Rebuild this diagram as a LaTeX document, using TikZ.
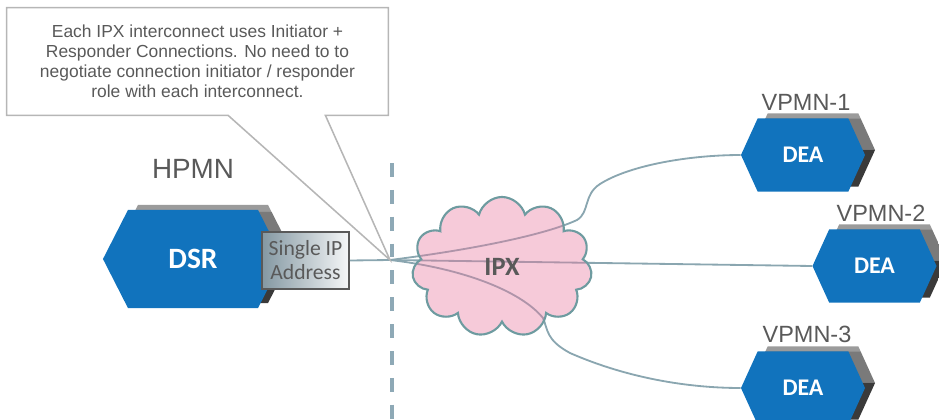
\documentclass[tikz,border=0pt]{standalone}
\usepackage{fontspec}
\setmainfont{Liberation Sans}
\newfontfamily\calfont{Carlito}
\usepackage{xcolor}
\usepackage{tikz}
\usetikzlibrary{positioning,shapes.symbols,calc}

\definecolor{hexblue}{RGB}{17,115,189}
\definecolor{bevellight}{RGB}{155,155,155}
\definecolor{bevelmid}{RGB}{122,122,122}
\definecolor{beveldark}{RGB}{58,58,58}
\definecolor{linkgrey}{RGB}{138,166,176}
\definecolor{cloudedge}{RGB}{110,155,160}
\definecolor{cloudpink}{RGB}{232,122,160}
\definecolor{labelgrey}{RGB}{89,89,89}
\definecolor{noteedge}{RGB}{182,182,182}
\definecolor{addrgrey}{RGB}{132,152,162}
\definecolor{dividerblue}{RGB}{142,169,182}

\pgfdeclareverticalshading{bevel}{100bp}{color(0bp)=(beveldark); color(50bp)=(beveldark); color(50.5bp)=(bevelmid); color(71.6bp)=(bevelmid); color(72bp)=(bevellight); color(100bp)=(bevellight)}

\begin{document}
\begin{tikzpicture}[
  x=0.025cm, y=-0.025cm,
  hexbox/.style={signal, signal to=west and east, fill=hexblue, text=white, inner sep=0pt,
    preaction={shade, shading=bevel, transform canvas={shift={(10,-5)}}}},
  dsrbox/.style={hexbox, minimum width=4.5cm, minimum height=2.45cm, signal pointer angle=126,
    font=\calfont\bfseries\fontsize{21}{21}\selectfont},
  deabox/.style={hexbox, minimum width=3.1cm, minimum height=1.825cm, signal pointer angle=131,
    font=\calfont\bfseries\fontsize{17}{17}\selectfont},
  addr/.style={draw=labelgrey, line width=1.1pt, left color=addrgrey, right color=white!92!addrgrey,
    minimum width=2.175cm, minimum height=1.425cm, inner sep=0pt, align=center, text=labelgrey,
    font=\calfont\fontsize{15.4}{17}\selectfont},
  ipx/.style={cloud, cloud puffs=11, draw=cloudedge, line width=1.5pt, fill=cloudpink, fill opacity=0.4,
    text opacity=1, minimum width=4.5cm, minimum height=3.5cm, inner sep=0pt, text=labelgrey,
    font=\calfont\bfseries\fontsize{18.8}{18.8}\selectfont},
  region/.style={text=labelgrey, inner sep=0pt, font=\fontsize{16.7}{16.7}\selectfont},
  note/.style={minimum width=9.525cm, minimum height=2.675cm, inner sep=0pt, align=center,
    text=labelgrey, font=\fontsize{12.4}{14.2}\selectfont},
  noteline/.style={draw=noteedge, line width=1.1pt, line join=miter},
  link/.style={draw=linkgrey, line width=1.3pt},
  divider/.style={draw=dividerblue, line width=2.8pt, dash pattern=on 9.9pt off 9.2pt}
]
\useasboundingbox (0,0) rectangle (939,420);
\clip (0,0) rectangle (939,420);

\coordinate (hub) at (390,260);
\node[note] (note) at (197.5,61.5) {Each IPX interconnect uses Initiator +\\Responder Connections. No need to to\\negotiate connection initiator / responder\\role with each interconnect.};
\node[region, font=\fontsize{19.8}{19.8}\selectfont] (hpmn) at (193,169) {HPMN};
\node[region] (vpmn1) at (806,102) {VPMN-1};
\node[region] (vpmn2) at (881,213.5) {VPMN-2};
\node[region] (vpmn3) at (807,334) {VPMN-3};

\node[dsrbox] (dsr) at (193,259) {DSR};
\node[deabox] (dea1) at (803,155) {DEA};
\node[deabox] (dea2) at (874.5,266) {DEA};
\node[deabox] (dea3) at (803,388) {DEA};

\draw[divider] (392,163) -- (392,420);
\draw[link] (hub) .. controls (470,250) and (545,235) .. (577,220) .. controls (590,212) and (583,195) .. (600,184) .. controls (630,165) and (690,155) .. (dea1.west);
\draw[link] (hub) -- (dea2.west);
\draw[link] (hub) .. controls (460,268) and (520,290) .. (543,318) .. controls (548,330) and (546,340) .. (570,353) .. controls (620,375) and (680,388) .. (dea3.west);

\node[ipx] (cloud) at (502,267) {IPX};
\node[addr] (sip) at (305.5,260.5) {Single IP\\Address};
\draw[link] (sip.east) -- (hub);

\draw[noteline] (note.north west) -- (note.north east) -- (note.south east)
  -- ($(note.south west)!0.835!(note.south east)$) -- (hub)
  -- ($(note.south west)!0.58!(note.south east)$) -- (note.south west) -- cycle;

\end{tikzpicture}
\end{document}
